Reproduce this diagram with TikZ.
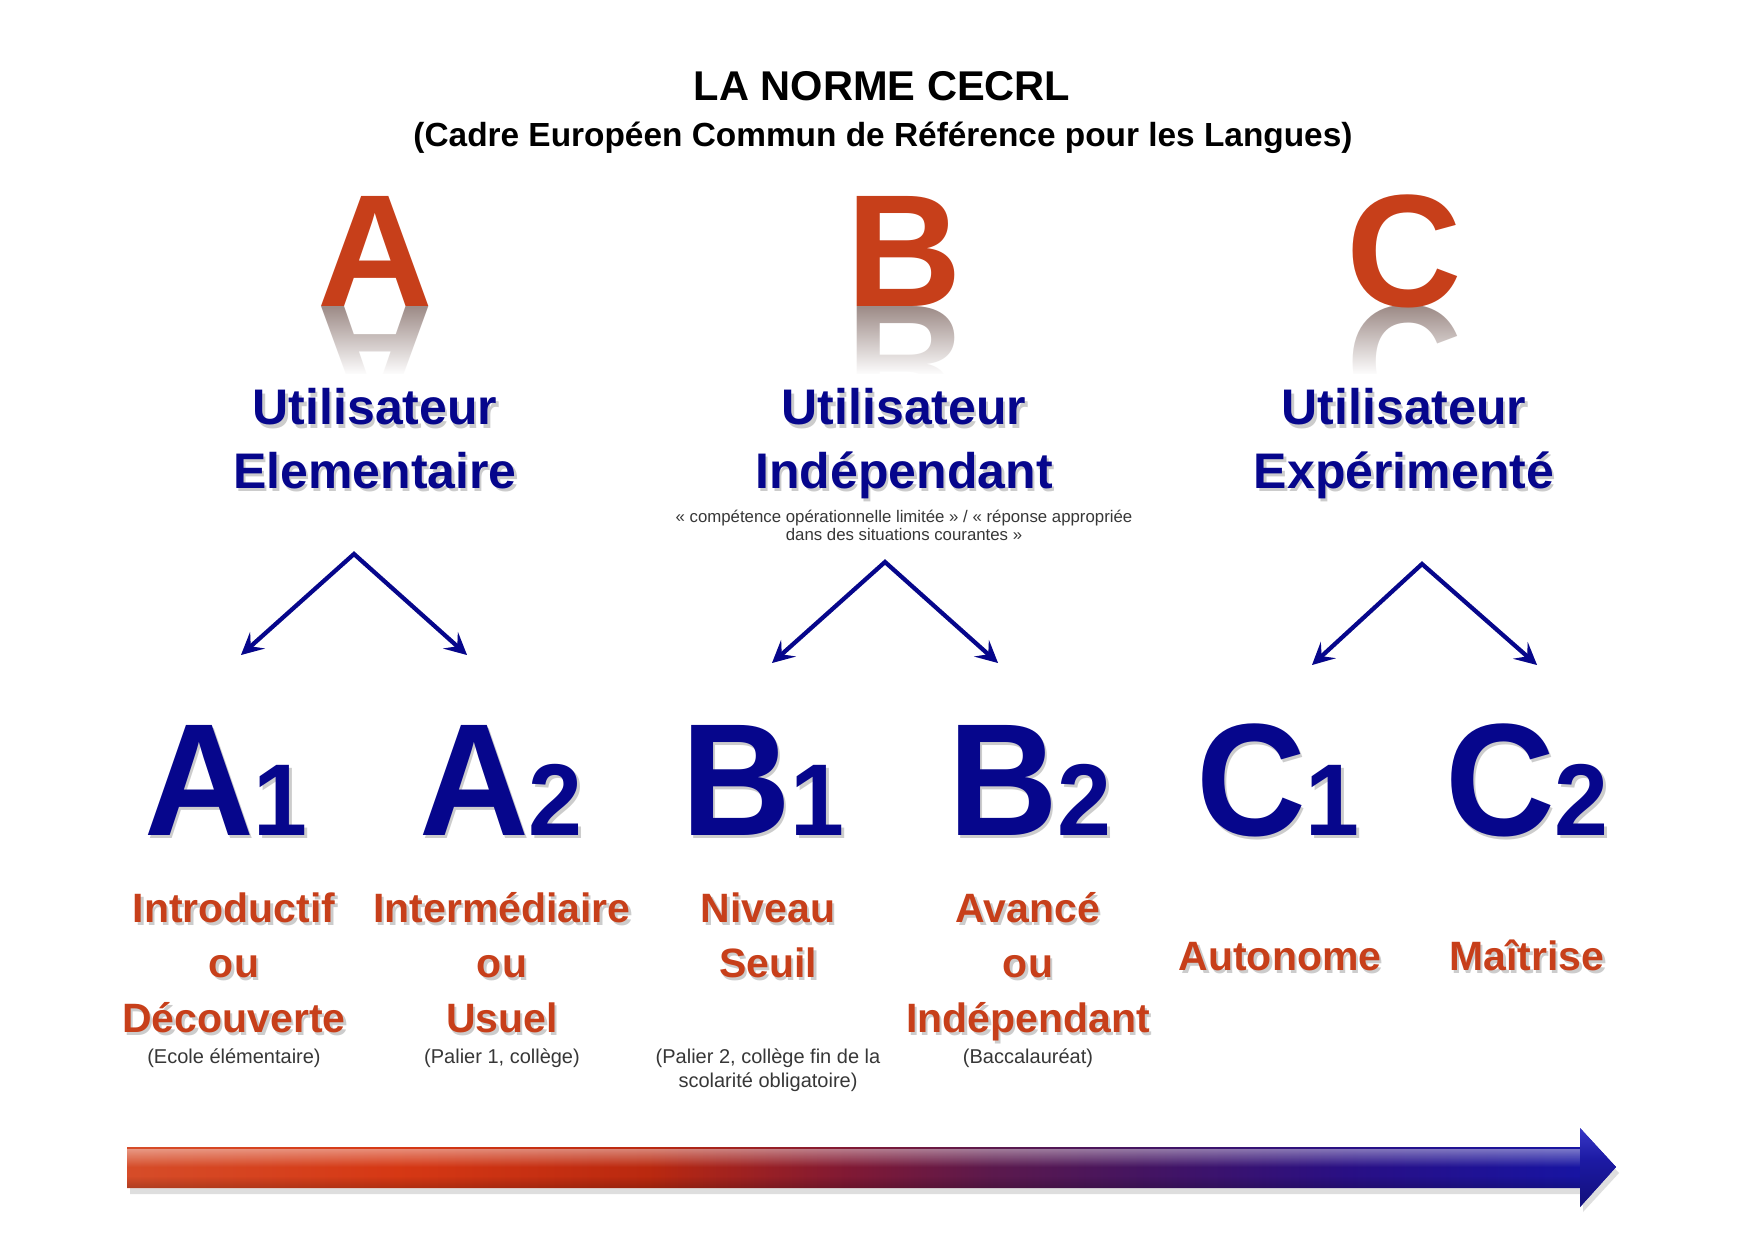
\documentclass[tikz,border=0pt]{standalone}
\usepackage{fontspec}
\setmainfont{Liberation Sans}
\usetikzlibrary{arrows.meta,fadings}
\definecolor{redc}{RGB}{199,63,26}
\definecolor{navy}{RGB}{6,6,140}
\definecolor{notec}{RGB}{55,55,55}
\definecolor{reflc}{RGB}{158,140,136}
\pgfdeclarehorizontalshading{cecrlgrad}{100bp}{rgb(0bp)=(0.84,0.30,0.16); rgb(25bp)=(0.84,0.30,0.16); rgb(34bp)=(0.84,0.22,0.08); rgb(42.5bp)=(0.73,0.16,0.06); rgb(49bp)=(0.51,0.10,0.20); rgb(54bp)=(0.36,0.10,0.30); rgb(59bp)=(0.27,0.08,0.38); rgb(66bp)=(0.16,0.06,0.52); rgb(74bp)=(0.09,0.08,0.64); rgb(100bp)=(0.09,0.08,0.64)}
\pgfdeclareverticalshading{headgrad}{100bp}{rgb(0bp)=(0.07,0.06,0.48); rgb(25bp)=(0.07,0.06,0.48); rgb(55bp)=(0.11,0.10,0.64); rgb(75bp)=(0.22,0.22,0.78); rgb(100bp)=(0.22,0.22,0.78)}
\newcommand\stx[4]{%
  \node[#2, text=black, text opacity=0.2, xshift=1.2pt, yshift=-1.8pt] (#1-s) at (#3) {#4};
  \node[#2] (#1) at (#3) {#4};}
\begin{document}
\begin{tikzpicture}[x=0.5pt,y=-0.5pt,
  title/.style={font=\fontsize{20.8}{24}\selectfont\bfseries, anchor=base, inner sep=0pt},
  subtitle/.style={font=\fontsize{16.7}{20}\selectfont\bfseries, anchor=base, inner sep=0pt},
  bigred/.style={font=\fontsize{80}{80}\selectfont\bfseries, text=redc, anchor=base, inner sep=0pt},
  refl/.style={bigred, text=reflc, yscale=-1},
  user/.style={font=\fontsize{25}{30}\selectfont\bfseries, text=navy, anchor=base, inner sep=0pt},
  smallnote/.style={font=\fontsize{8.4}{10}\selectfont, text=notec, anchor=base, inner sep=0pt},
  level/.style={font=\fontsize{80}{80}\selectfont\bfseries, text=navy, anchor=base, inner sep=0pt, xscale=0.95},
  desc/.style={font=\fontsize{20.5}{24}\selectfont\bfseries, text=redc, anchor=base, inner sep=0pt},
  note/.style={font=\fontsize{10}{12}\selectfont, text=notec, anchor=base, inner sep=0pt},
  branch/.style={navy, line width=2.1pt, line join=miter,
     {Stealth[length=11pt,width=11pt,inset=4.5pt]}-{Stealth[length=11pt,width=11pt,inset=4.5pt]}},
  branchsh/.style={branch, black, opacity=0.18}
]
\fill[white] (0,0) rectangle (1754,1240);
\useasboundingbox (0,0) rectangle (1754,1240);

% title
\node[title] (title) at (882,101) {LA NORME CECRL};
\node[subtitle] (subtitle) at (883,147) {(Cadre Européen Commun de Référence pour les Langues)};

% big letters with reflection
\begin{scope}
  \clip (0,307) rectangle (1754,374);
  \foreach \n/\x/\L in {A/375/A, B/904/B, C/1404/C}
    \node[refl] (r\n) at (\x,307) {\L};
\end{scope}
\foreach \x in {375,904,1404}
  \fill[white, path fading=north] (\x-90,307) rectangle (\x+90,375);
\foreach \n/\x/\L in {A/375/A, B/904/B, C/1404/C}
  \node[bigred] (big\n) at (\x,307) {\L};

% user categories
\foreach \n/\x/\a/\b in {A/375/Utilisateur/Elementaire, B/904/Utilisateur/Indépendant, C/1404/Utilisateur/Expérimenté}{
  \stx{u\n1}{user}{\x,425}{\a}
  \stx{u\n2}{user}{\x,488}{\b}
}
\node[smallnote] (noteB1) at (904,522) {« compétence opérationnelle limitée » / « réponse appropriée};
\node[smallnote] (noteB2) at (904,540) {dans des situations courantes »};

% branching arrows
\coordinate (apA) at (354,554); \coordinate (tA1) at (241,655); \coordinate (tA2) at (467,655);
\coordinate (apB) at (885,562); \coordinate (tB1) at (772,663); \coordinate (tB2) at (998,663);
\coordinate (apC) at (1422,564); \coordinate (tC1) at (1312,665); \coordinate (tC2) at (1537,665);
\foreach \n in {A,B,C}{
  \draw[branchsh, xshift=1pt, yshift=-1.5pt] (t\n1) -- (ap\n) -- (t\n2);
  \draw[branch] (t\n1) -- (ap\n) -- (t\n2);
}

% levels
\foreach \n/\x/\L/\d in {A1/226/A/1, A2/501/A/2, B1/763/B/1, B2/1030/B/2, C1/1278/C/1, C2/1527/C/2}{
  \stx{lv\n}{level}{\x,835}{\L{\fontsize{51}{51}\selectfont\d}}
}

% descriptors
\foreach \n/\x/\y/\t in {A1a/234/922/Introductif, A1b/234/977/ou, A1c/234/1032/Découverte,
   A2a/502/922/Intermédiaire, A2b/502/977/ou, A2c/502/1032/Usuel,
   B1a/768/922/Niveau, B1b/768/977/Seuil,
   B2a/1028/922/Avancé, B2b/1028/977/ou, B2c/1028/1032/Indépendant,
   C1a/1280/970/Autonome, C2a/1527/970/Maîtrise}{
  \stx{d\n}{desc}{\x,\y}{\t}
}

% notes
\foreach \n/\x/\y/\t in {A1/234/1063/{(Ecole élémentaire)}, A2/502/1063/{(Palier 1, collège)},
   B1/768/1063/{(Palier 2, collège fin de la}, B1b/768/1087/{scolarité obligatoire)},
   B2/1028/1063/{(Baccalauréat)}}
  \node[note] (n\n) at (\x,\y) {\t};

% progression arrow
\coordinate (pL) at (127,1167); \coordinate (pR) at (1616,1167);
\fill[black, opacity=0.13] (130,1153) -- (1583,1153) -- (1583,1134) -- (1619,1173) -- (1583,1212) -- (1583,1194) -- (130,1194) -- cycle;
\shade[shading=cecrlgrad] (pL |- 0,1147) -- (1580,1147) -- (1580,1128) -- (pR) -- (1580,1207) -- (1580,1188) -- (pL |- 0,1188) -- cycle;
\fill[white, opacity=0.42, path fading=south] (127,1149) rectangle (1580,1167);
\fill[black, opacity=0.18, path fading=north] (127,1176) rectangle (1580,1188);
\shade[shading=headgrad] (1580,1128) -- (pR) -- (1580,1207) -- cycle;
\end{tikzpicture}
\end{document}
